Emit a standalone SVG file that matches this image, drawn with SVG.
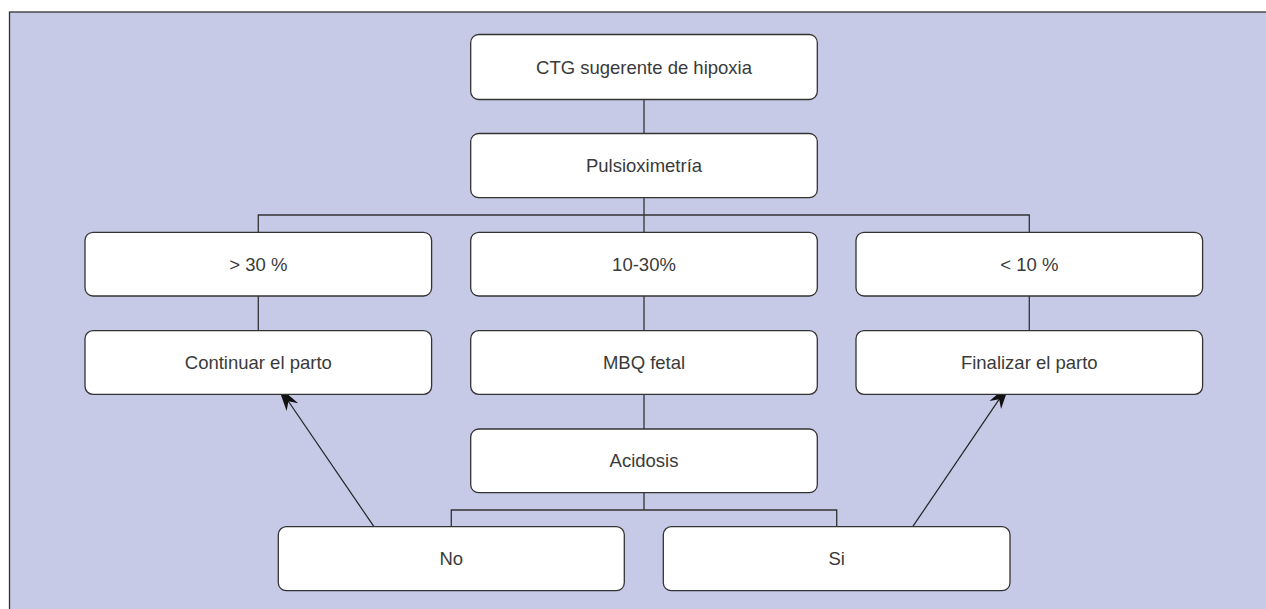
<svg xmlns="http://www.w3.org/2000/svg" width="1266" height="609" viewBox="0 0 1266 609">
<defs>
<style>
.bg{fill:#c7cae6;stroke:#333;stroke-width:1.3}
.box{fill:#fff;stroke:#333;stroke-width:1.3}
.lbl{font-family:"Liberation Sans",Arial,sans-serif;font-size:18.5px;fill:#3a3a3a;text-anchor:middle;dominant-baseline:central}
.ln{fill:none;stroke:#333;stroke-width:1.3}
.arr{fill:none;stroke:#222;stroke-width:1.2;marker-end:url(#ah)}
</style>
<marker id="ah" viewBox="0 0 26 14" refX="25" refY="7" markerWidth="26" markerHeight="14" markerUnits="userSpaceOnUse" orient="auto" overflow="visible">
<path d="M0,0 L26,7 L0,14 L7,7 Z" fill="#111"/>
</marker>
</defs>
<rect class="bg" x="9.5" y="12" width="1270" height="610"/>
<g id="connectors">
<line class="ln" x1="644" y1="100" x2="644" y2="133.5"/>
<polyline class="ln" points="258.3,232.3 258.3,215 1029.3,215 1029.3,232.3"/>
<line class="ln" x1="644" y1="197.7" x2="644" y2="232.3"/>
<line class="ln" x1="258.3" y1="296" x2="258.3" y2="330.7"/>
<line class="ln" x1="644" y1="296" x2="644" y2="330.7"/>
<line class="ln" x1="1029.3" y1="296" x2="1029.3" y2="330.7"/>
<line class="ln" x1="644" y1="394.3" x2="644" y2="429"/>
<line class="ln" x1="644" y1="492.7" x2="644" y2="510"/>
<polyline class="ln" points="451.3,526.7 451.3,510 836.7,510 836.7,526.7"/>
<line class="arr" x1="374" y1="526.7" x2="278.3" y2="386.5"/>
<line class="arr" x1="912.7" y1="526.7" x2="1009.3" y2="384.3"/>
</g>
<g id="n-ctg"><rect class="box" x="470.7" y="34.5" width="346.6" height="65" rx="8"/><text class="lbl" x="644" y="67">CTG sugerente de hipoxia</text></g>
<g id="n-pulsio"><rect class="box" x="470.7" y="133.5" width="346.6" height="64.2" rx="8"/><text class="lbl" x="644" y="165.6">Pulsioximetría</text></g>
<g id="n-gt30"><rect class="box" x="85" y="232.3" width="346.6" height="63.7" rx="8"/><text class="lbl" x="258.3" y="264.2">&gt; 30 %</text></g>
<g id="n-10-30"><rect class="box" x="470.7" y="232.3" width="346.6" height="63.7" rx="8"/><text class="lbl" x="644" y="264.2">10-30%</text></g>
<g id="n-lt10"><rect class="box" x="856" y="232.3" width="346.6" height="63.7" rx="8"/><text class="lbl" x="1029.3" y="264.2">&lt; 10 %</text></g>
<g id="n-continuar"><rect class="box" x="85" y="330.7" width="346.6" height="63.6" rx="8"/><text class="lbl" x="258.3" y="362.5">Continuar el parto</text></g>
<g id="n-mbq"><rect class="box" x="470.7" y="330.7" width="346.6" height="63.6" rx="8"/><text class="lbl" x="644" y="362.5">MBQ fetal</text></g>
<g id="n-finalizar"><rect class="box" x="856" y="330.7" width="346.6" height="63.6" rx="8"/><text class="lbl" x="1029.3" y="362.5">Finalizar el parto</text></g>
<g id="n-acidosis"><rect class="box" x="470.7" y="429" width="346.6" height="63.7" rx="8"/><text class="lbl" x="644" y="460.9">Acidosis</text></g>
<g id="n-no"><rect class="box" x="278.3" y="526.7" width="346" height="64" rx="8"/><text class="lbl" x="451.3" y="558.7">No</text></g>
<g id="n-si"><rect class="box" x="663.3" y="526.7" width="346.7" height="64" rx="8"/><text class="lbl" x="836.7" y="558.7">Si</text></g>
</svg>
